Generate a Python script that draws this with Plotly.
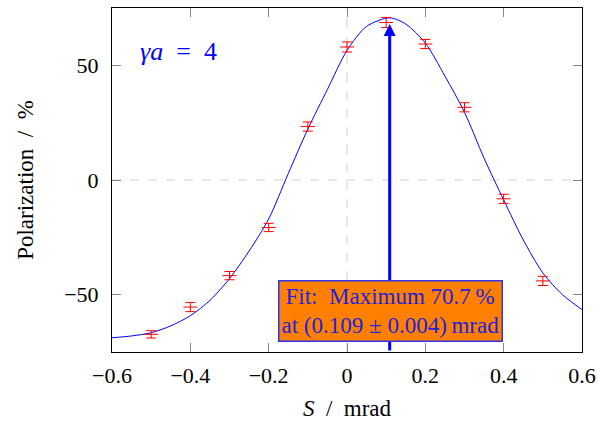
import plotly.graph_objects as go

# Measured data (S in mrad, polarization in %)
s_meas = [-0.5, -0.4, -0.3, -0.2, -0.1, 0.0, 0.1, 0.2, 0.3, 0.4, 0.5]
pol_meas = [-67.3, -55.4, -41.7, -20.7, 23.3, 58.0, 68.7, 59.3, 31.7, -8.2, -44.0]
pol_err = [1.6, 2.0, 1.8, 1.8, 2.0, 2.2, 2.2, 2.0, 2.0, 2.0, 2.0]

# Fit curve
s_fit = [-0.6, -0.55, -0.5, -0.45, -0.4, -0.35, -0.3, -0.25, -0.2, -0.15, -0.1, -0.05,
         0.0, 0.05, 0.109, 0.15, 0.2, 0.25, 0.3, 0.35, 0.4, 0.45, 0.5, 0.55, 0.6]
pol_fit = [-68.8, -68.0, -66.6, -63.6, -59.2, -52.5, -43.0, -31.0, -17.0, 2.8, 22.2, 39.5,
           56.5, 67.0, 70.7, 68.0, 59.7, 45.3, 29.5, 9.5, -8.7, -26.1, -40.5, -50.0, -56.5]

peak_s = 0.109
peak_pol = 68.0

x_ticks = [-0.6, -0.4, -0.2, 0.0, 0.2, 0.4, 0.6]
x_ticktext = ["\u22120.6", "\u22120.4", "\u22120.2", "0", "0.2", "0.4", "0.6"]
y_ticks = [-50, 0, 50]
y_ticktext = ["\u221250", "0", "50"]

FONT = "Liberation Serif"
BLUE = "#0000FF"

fig = go.Figure()

fig.add_trace(go.Scatter(
    x=s_fit, y=pol_fit, mode="lines", line=dict(color=BLUE, width=1, shape="spline", smoothing=0.8),
    hoverinfo="skip", showlegend=False))

fig.add_trace(go.Scatter(
    x=s_meas, y=pol_meas, mode="markers",
    marker=dict(symbol="line-ew", size=10, line=dict(color="#FF0000", width=1), color="#FF0000"),
    error_y=dict(type="data", array=pol_err, visible=True, color="#FF0000", thickness=1, width=5),
    showlegend=False))

# dashed reference lines at zero
fig.add_shape(type="line", xref="x", yref="paper", x0=0, x1=0, y0=0, y1=1,
              line=dict(color="#D0D0D0", width=1, dash="dash"), layer="below")
fig.add_shape(type="line", xref="paper", yref="y", x0=0, x1=1, y0=0, y1=0,
              line=dict(color="#D0D0D0", width=1, dash="dash"), layer="below")

# arrow marking the maximum
fig.add_annotation(x=peak_s, y=peak_pol, ax=peak_s, ay=-75, xref="x", yref="y",
                   axref="x", ayref="y", text="", showarrow=True,
                   arrowhead=2, arrowsize=0.8, arrowwidth=3, arrowcolor=BLUE)

fig.add_annotation(x=0.11, y=-57, xref="x", yref="y",
                   text="Fit:  Maximum 70.7\u2009%<br>at (0.109 \u00b1 0.004)\u2009mrad",
                   showarrow=False, font=dict(family=FONT, size=23, color="#2222DD"),
                   bgcolor="#FF8000", bordercolor="#3333EE", borderwidth=1.5, borderpad=2,
                   align="center")

fig.add_annotation(x=0.055, y=0.875, xref="paper", yref="paper", xanchor="left", yanchor="middle",
                   text="<i>\u03b3a</i>  =  4", showarrow=False,
                   font=dict(family=FONT, size=26, color=BLUE))

axis_common = dict(
    showgrid=False, zeroline=False, ticks="inside", ticklen=9, tickcolor="#888888",
    showline=True, linecolor="#000000", linewidth=1, mirror="ticks", automargin=False,
    tickfont=dict(family=FONT, size=22, color="#000000"),
)

fig.update_xaxes(range=[-0.6, 0.6], tickvals=x_ticks, ticktext=x_ticktext,
                 title=dict(text="<i>S</i>  /  mrad", font=dict(family=FONT, size=23, color="#000000"), standoff=12),
                 ticklabelstandoff=4, **axis_common)
fig.update_yaxes(range=[-75, 75], tickvals=y_ticks, ticktext=y_ticktext,
                 title=dict(text="Polarization  /  %", font=dict(family=FONT, size=23, color="#000000"), standoff=24),
                 ticklabelstandoff=8, **axis_common)

fig.update_layout(
    width=598, height=430,
    margin=dict(l=112, r=16, t=8, b=78),
    paper_bgcolor="white", plot_bgcolor="white",
    showlegend=False,
)

# remove the page's default body margin so the figure fills the window
fig.write_html("out.html", config={"displayModeBar": False},
               post_script="document.body.style.margin='0';document.body.style.overflow='hidden';")
